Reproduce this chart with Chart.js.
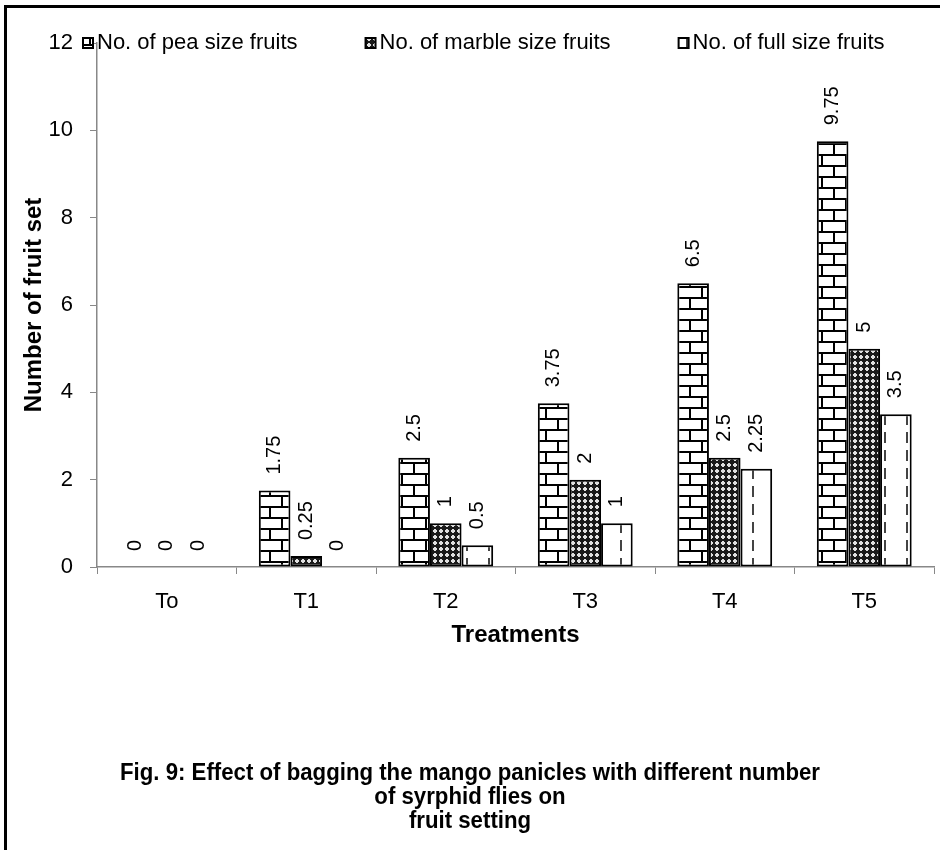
<!DOCTYPE html>
<html>
<head>
<meta charset="utf-8">
<script src="https://cdn.jsdelivr.net/npm/chart.js@4.4.1/dist/chart.umd.min.js"></script>
<style>
html,body{margin:0;padding:0;background:#fff;}
#wrap{position:relative;width:940px;height:850px;overflow:hidden;background:#fff;}
#c{position:absolute;left:0;top:0;}
#frame{position:absolute;left:4px;top:5px;width:980px;height:900px;border-left:3px solid #000;border-top:3px solid #000;pointer-events:none;}
#caption{position:absolute;left:0;width:940px;top:760px;text-align:center;font-family:"Liberation Sans Narrow","Arial Narrow","Liberation Sans",Arial,sans-serif;font-weight:bold;font-size:23px;line-height:24px;color:#000;transform-origin:470px 0;}
#caption span{white-space:nowrap;}
</style>
</head>
<body>
<div id="wrap">
<canvas id="c" width="940" height="850"></canvas>
<div id="frame"></div>
<div id="caption"><span id="cap1">Fig. 9: Effect of bagging the mango panicles with different number</span><br><span>of syrphid flies on</span><br><span>fruit setting</span></div>
</div>
<script>
const categories = ['To', 'T1', 'T2', 'T3', 'T4', 'T5'];
const peaValues = [0, 1.75, 2.5, 3.75, 6.5, 9.75];
const marbleValues = [0, 0.25, 1, 2, 2.5, 5];
const fullValues = [0, 0, 0.5, 1, 2.25, 3.5];
const seriesNames = ['No. of pea size fruits', 'No. of marble size fruits', 'No. of full size fruits'];
const yTickValues = [0, 2, 4, 6, 8, 10, 12];
const xTitle = 'Treatments';
const yTitle = 'Number of fruit set';

const FONT = '"Liberation Sans", Arial, sans-serif';

// fit caption's first line to the reference width
(function fitCaption() {
  const s = document.getElementById('cap1');
  const w = s.getBoundingClientRect().width;
  const target = 700;
  if (w > 0) {
    document.getElementById('caption').style.transform = 'scaleX(' + (target / w).toFixed(4) + ')';
  }
})();

function makeTile(w, h, draw) {
  const c = document.createElement('canvas');
  c.width = w; c.height = h;
  const g = c.getContext('2d');
  draw(g, w, h);
  return c;
}
const brickTile = makeTile(24, 22, (g, w, h) => {
  g.fillStyle = '#fff'; g.fillRect(0, 0, w, h);
  g.fillStyle = '#000';
  g.fillRect(0, 0, w, 2);
  g.fillRect(0, 11, w, 2);
  g.fillRect(5, 0, 2, 11);
  g.fillRect(17, 11, 2, 11);
});
const marbleTile = makeTile(6, 6, (g, w, h) => {
  g.fillStyle = '#1a1a1a'; g.fillRect(0, 0, w, h);
  g.fillStyle = '#e0e0e0';
  g.fillRect(1, 2, 4, 2);
  g.fillRect(2, 1, 2, 4);
});
const fullTile = makeTile(22, 18, (g, w, h) => {
  g.fillStyle = '#fff'; g.fillRect(0, 0, w, h);
  g.fillStyle = '#444';
  g.fillRect(4, 0, 2, 11);
});

const ctx0 = document.getElementById('c').getContext('2d');
const pPea = ctx0.createPattern(brickTile, 'repeat');
const pMarble = ctx0.createPattern(marbleTile, 'repeat');
const pFull = ctx0.createPattern(fullTile, 'repeat');

const zeroless = (ctx) => (ctx.raw === 0 ? 0 : 2);

const valueLabels = {
  id: 'valueLabels',
  afterDatasetsDraw(chart) {
    const ctx = chart.ctx;
    ctx.save();
    ctx.fillStyle = '#000';
    ctx.font = '20px ' + FONT;
    ctx.textAlign = 'left';
    ctx.textBaseline = 'middle';
    chart.data.datasets.forEach((ds, di) => {
      const meta = chart.getDatasetMeta(di);
      meta.data.forEach((el, i) => {
        const v = ds.data[i];
        ctx.save();
        ctx.translate(el.x, el.y - 16);
        ctx.rotate(-Math.PI / 2);
        ctx.fillText(String(v), 0, 0);
        ctx.restore();
      });
    });
    ctx.restore();
  }
};

const customLegend = {
  id: 'customLegend',
  afterDraw(chart) {
    const ctx = chart.ctx;
    ctx.save();
    ctx.font = '22px ' + FONT;
    ctx.textBaseline = 'middle';
    ctx.textAlign = 'left';
    const y = 43;
    let x = 83;
    chart.data.datasets.forEach((ds) => {
      ctx.fillStyle = ds.backgroundColor;
      ctx.fillRect(x, y - 5, 10, 10);
      ctx.lineWidth = 2;
      ctx.strokeStyle = '#000';
      ctx.strokeRect(x, y - 5, 10, 10);
      ctx.fillStyle = '#000';
      ctx.fillText(ds.label, x + 14, y);
      x += 14 + ctx.measureText(ds.label).width + 68;
    });
    ctx.restore();
  }
};

new Chart(document.getElementById('c'), {
  type: 'bar',
  data: {
    labels: categories,
    datasets: [
      { label: seriesNames[0], data: peaValues, backgroundColor: pPea, borderColor: '#000', borderWidth: zeroless, borderSkipped: false },
      { label: seriesNames[1], data: marbleValues, backgroundColor: pMarble, borderColor: '#000', borderWidth: zeroless, borderSkipped: false },
      { label: seriesNames[2], data: fullValues, backgroundColor: pFull, borderColor: '#000', borderWidth: zeroless, borderSkipped: false }
    ]
  },
  options: {
    responsive: false,
    animation: false,
    devicePixelRatio: 1,
    categoryPercentage: 0.68,
    barPercentage: 1.0,
    layout: { padding: { left: 8, right: 6, top: 43, bottom: 193 } },
    plugins: {
      legend: { display: false },
      tooltip: { enabled: false },
      title: { display: false }
    },
    scales: {
      x: {
        afterFit(scale) { scale.height = 90; },
        grid: { display: true, drawOnChartArea: false, drawTicks: true, tickLength: 7, color: '#888', lineWidth: 1, offset: true },
        border: { display: true, color: '#888', width: 1.5 },
        ticks: { color: '#000', font: { family: FONT, size: 22 }, padding: 15, maxRotation: 0 },
        title: { display: true, text: xTitle, color: '#000', font: { family: FONT, size: 24, weight: 'bold' }, padding: { top: 0, bottom: 7 } }
      },
      y: {
        min: 0, max: 12,
        afterFit(scale) { scale.width = 89; },
        afterBuildTicks(scale) { scale.ticks = yTickValues.map(v => ({ value: v })); },
        grid: { display: true, drawOnChartArea: false, drawTicks: true, tickLength: 7, color: '#888', lineWidth: 1 },
        border: { display: true, color: '#888', width: 1.5 },
        ticks: { color: '#000', font: { family: FONT, size: 22 }, padding: 17 },
        title: { display: true, text: yTitle, color: '#000', font: { family: FONT, size: 24, weight: 'bold' }, padding: { top: 12, bottom: 0 } }
      }
    }
  },
  plugins: [valueLabels, customLegend]
});
</script>
</body>
</html>
